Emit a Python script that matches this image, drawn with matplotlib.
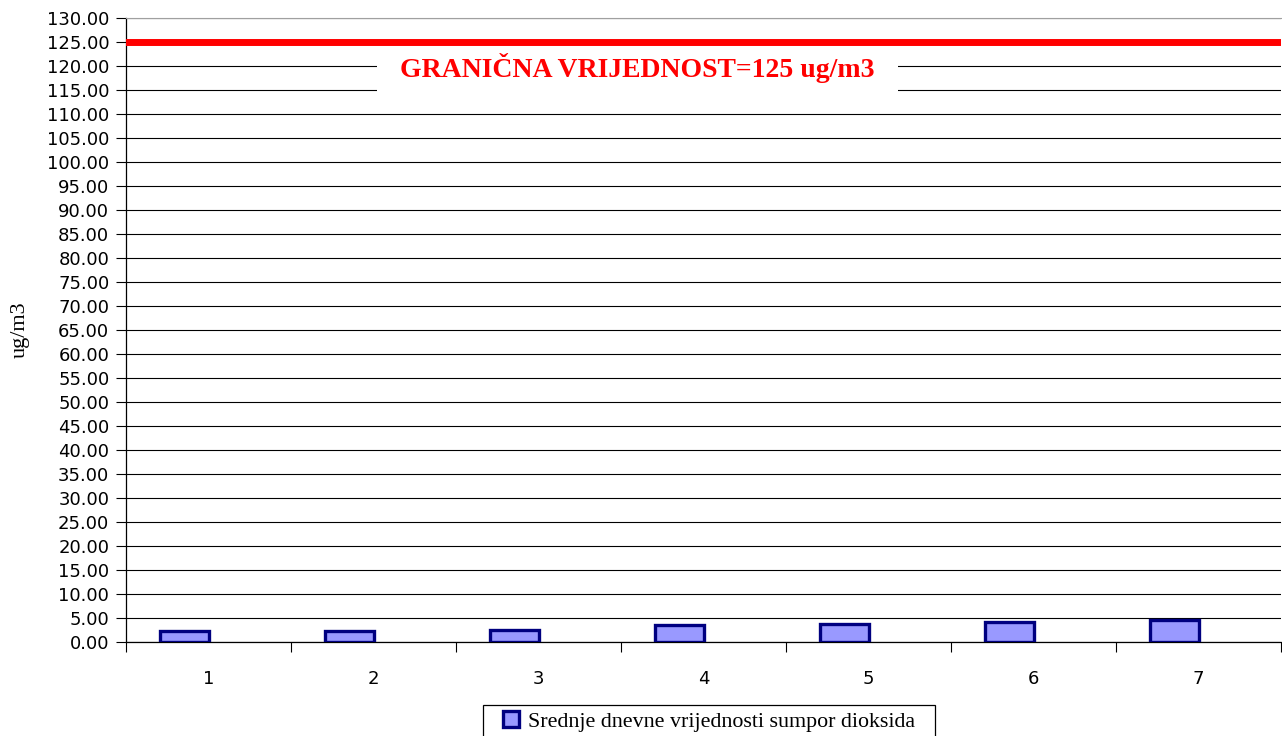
import numpy as np
import matplotlib.pyplot as plt
from matplotlib.ticker import FixedLocator
from matplotlib.patches import Rectangle

days = [1, 2, 3, 4, 5, 6, 7]
so2_values = [2.3, 2.3, 2.6, 3.5, 3.85, 4.2, 4.6]
limit_value = 125
limit_label = 'GRANIČNA VRIJEDNOST=125 ug/m3'
series_label = 'Srednje dnevne vrijednosti sumpor dioksida'

fig = plt.figure(figsize=(12.82, 7.36), dpi=100)
ax = fig.add_axes([126 / 1282, 94 / 736, 1155 / 1282, 624 / 736])

x = np.array(days)
bar_width = 0.30
offset = -0.145

ax.bar(x + offset, so2_values, bar_width, color='#9999ff',
       edgecolor='#000080', linewidth=2.4, zorder=3,
       label=series_label)

ax.axhline(limit_value, color='#ff0000', linewidth=5, zorder=6)
ax.text(3.6, 119.6, limit_label, color='#ff0000', fontsize=20,
        fontweight='bold', family='Liberation Serif',
        ha='center', va='center', zorder=5,
        bbox=dict(boxstyle='square,pad=0.85', fc='white', ec='none'))

ax.set_xlim(0.5, 7.5)
ax.set_ylim(0, 130)
yt = np.arange(0, 131, 5)
ax.set_yticks(yt)
ax.set_yticklabels(['%.2f' % v for v in yt], family='DejaVu Sans', fontsize=13)
ax.grid(axis='y', color='black', linewidth=0.8, zorder=1)
ax.tick_params(axis='y', length=7, width=0.8, pad=5, direction='out')

ax.xaxis.set_major_locator(FixedLocator(np.arange(0.5, 7.6, 1)))
ax.xaxis.set_minor_locator(FixedLocator(x))
ax.set_xticklabels([])
ax.set_xticklabels([str(d) for d in days], minor=True,
                   family='DejaVu Sans', fontsize=13)
ax.tick_params(axis='x', which='major', length=7, width=0.8)
ax.tick_params(axis='x', which='minor', length=0, pad=20)

ax.spines['top'].set_color('#a0a0a0')
ax.spines['right'].set_visible(False)
for s in ['left', 'bottom']:
    ax.spines[s].set_linewidth(0.9)

ax.set_ylabel('ug/m3', family='Liberation Serif', fontsize=16, labelpad=12)

# legend box like the excel one, wider than the text and cut at the bottom
fig.patches.append(Rectangle((483 / 1282, -0.01), 452 / 1282, 0.01 + 31 / 736,
                             transform=fig.transFigure, fill=False,
                             edgecolor='black', linewidth=0.9))
leg = fig.legend(loc='upper center', bbox_to_anchor=(709 / 1282, 1 - 708 / 736),
                 prop={'family': 'Liberation Serif', 'size': 15.8},
                 frameon=False, handlelength=0.75, handleheight=0.75,
                 handletextpad=0.4, borderpad=0.15, borderaxespad=0)

fig.savefig('out.png', dpi=100)
